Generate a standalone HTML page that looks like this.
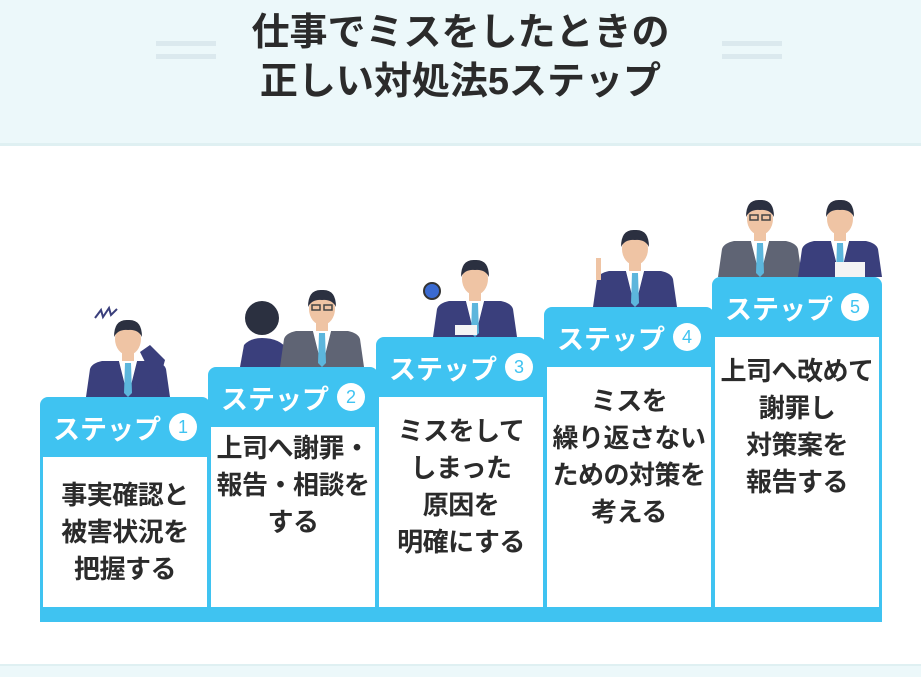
<!DOCTYPE html>
<html><head><meta charset="utf-8"><style>
body{margin:0;width:921px;height:675px;position:relative;background:#fff;font-family:"Liberation Sans","Noto Sans CJK JP",sans-serif;overflow:hidden}
.top{position:absolute;left:0;top:0;width:921px;height:143px;background:#ecf8fa;border-bottom:3px solid #dff0f2}
.bot{position:absolute;left:0;top:664px;width:921px;height:11px;background:#ecf8fa;border-top:2px solid #dff0f2}
.title{position:absolute;left:0;width:921px;top:9px;text-align:center;font-size:38px;font-weight:bold;color:#2b2b2b;line-height:49px}
.dash{position:absolute;height:5px;width:60px;background:#dbe9ee}
.col{position:absolute;background:#3fc3f1;border-radius:8px 8px 0 0;width:170px}
.hd{height:60px;color:#fff;font-size:27px;font-weight:bold;display:flex;align-items:center;justify-content:center;gap:8px}
.num{width:28px;height:28px;border-radius:50%;background:#fff;color:#3fc3f1;font-size:18px;font-weight:normal;display:flex;align-items:center;justify-content:center}
.bd{position:absolute;left:3px;right:3px;top:60px;bottom:0;background:#fff;text-align:center;font-size:26px;font-weight:bold;color:#2b2b2b;line-height:37px;padding-top:20px;box-sizing:border-box;white-space:nowrap;letter-spacing:-0.5px}
.bar{position:absolute;left:40px;top:607px;width:842px;height:15px;background:#3fc3f1}
svg{position:absolute;left:0;top:0}
</style></head><body>
<div class="top"></div>
<div class="dash" style="left:156px;top:41px"></div><div class="dash" style="left:156px;top:54px"></div>
<div class="dash" style="left:722px;top:41px"></div><div class="dash" style="left:722px;top:54px"></div>
<div class="title">仕事でミスをしたときの<br>正しい対処法5ステップ</div>
<svg width="921" height="675">
<defs>
<g id="h">
<rect x="-6" y="-46" width="12" height="12" fill="#efc4a4"/>
<path d="M-9 -36 L0 0 L9 -36Z" fill="#fff"/>
<path d="M-3 -34 L3 -34 L4 -4 L0 0 L-4 -4Z" fill="#5cb6dc"/>
<ellipse cx="0" cy="-58" rx="13" ry="16" fill="#efc4a4"/>
<path d="M-14 -60 Q-14 -78 0 -77 Q14 -78 14 -60 Q10 -68 0 -67 Q-10 -68 -14 -60Z" fill="#2b3040"/>
</g>
<g id="p">
<path d="M-42 0 L-38 -28 Q-36 -34 -26 -36 L-9 -36 L0 0 L9 -36 L26 -36 Q36 -34 38 -28 L42 0Z" fill="#3a3f7c"/>
<use href="#h"/>
</g>
<g id="g">
<path d="M-42 0 L-38 -28 Q-36 -34 -26 -36 L-9 -36 L0 0 L9 -36 L26 -36 Q36 -34 38 -28 L42 0Z" fill="#5f6474"/>
<use href="#h"/>
<rect x="-10" y="-62" width="8" height="5" fill="none" stroke="#444" stroke-width="1.5"/>
<rect x="2" y="-62" width="8" height="5" fill="none" stroke="#444" stroke-width="1.5"/>
</g>
</defs>
<use href="#p" x="128" y="397"/>
<path d="M95 318 l6 -8 l2 7 l6 -9 l2 7 l6 -6" stroke="#3a3f7c" stroke-width="2" fill="none"/>
<path d="M155 397 L165 360 L150 345 L140 352 L150 372 L150 397Z" fill="#3a3f7c"/>
<circle cx="262" cy="318" r="17" fill="#2b3040"/>
<path d="M240 367 L244 345 Q250 338 262 338 Q280 338 288 350 L290 367Z" fill="#3a3f7c"/>
<use href="#g" x="322" y="367"/>
<use href="#p" x="475" y="337"/>
<circle cx="432" cy="291" r="8" fill="#3a6ad0" stroke="#333" stroke-width="2"/>
<rect x="455" y="325" width="22" height="10" fill="#f4f4f4"/>
<use href="#p" x="635" y="307"/>
<path d="M596 280 l0 -22 l5 0 l0 22Z" fill="#efc4a4"/>
<use href="#g" x="760" y="277"/>
<use href="#p" x="840" y="277"/>
<rect x="835" y="262" width="30" height="15" fill="#f4f4f4"/>
</svg>
<div class="col" style="left:40px;top:397px;height:215px"><div class="hd">ステップ<span class="num">1</span></div><div class="bd">事実確認と<br>被害状況を<br>把握する</div></div>
<div class="col" style="left:208px;top:367px;height:245px"><div class="hd">ステップ<span class="num">2</span></div><div class="bd" style="padding-top:3px">上司へ謝罪・<br>報告・相談を<br>する</div></div>
<div class="col" style="left:376px;top:337px;height:275px"><div class="hd">ステップ<span class="num">3</span></div><div class="bd" style="padding-top:16px">ミスをして<br>しまった<br>原因を<br>明確にする</div></div>
<div class="col" style="left:544px;top:307px;height:305px"><div class="hd">ステップ<span class="num">4</span></div><div class="bd" style="padding-top:16px">ミスを<br>繰り返さない<br>ための対策を<br>考える</div></div>
<div class="col" style="left:712px;top:277px;height:335px"><div class="hd">ステップ<span class="num">5</span></div><div class="bd" style="padding-top:16px">上司へ改めて<br>謝罪し<br>対策案を<br>報告する</div></div>
<div class="bar"></div>
<div class="bot"></div>
</body></html>
